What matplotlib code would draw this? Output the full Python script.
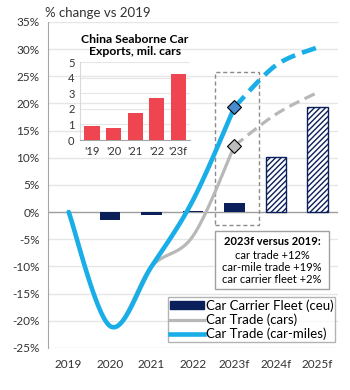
import numpy as np
import matplotlib
matplotlib.use("Agg")
import matplotlib.pyplot as plt
from matplotlib.patches import Rectangle, Patch
from matplotlib.lines import Line2D

plt.rcParams['font.family'] = ['Lato', 'DejaVu Sans']

years = ['2019', '2020', '2021', '2022', '2023f', '2024f', '2025f']
fleet = [0.0, -1.5, -0.5, 0.15, 1.7, 10.1, 19.3]
trade_cars = [0.0, -21.0, -10.0, -4.4, 12.2]
trade_cars_fc = [12.2, 18.0, 22.0]
trade_miles = [0.0, -21.0, -10.0, 2.2, 19.3]
trade_miles_fc = [19.3, 27.0, 30.3]

exp_years = ["'19", "'20", "'21", "'22", "'23f"]
exports = [0.9, 0.8, 1.7, 2.7, 4.2]

NAVY = '#0B1F5B'
BLUE = '#19AEE8'
GREY = '#B8B8B8'
RED = '#EF4550'


def smooth(xs, ys, n=30):
    # Excel-style smoothed line (Catmull-Rom through the points)
    xs = np.asarray(xs, float)
    ys = np.asarray(ys, float)
    px = np.concatenate([[xs[0]], xs, [xs[-1]]])
    py = np.concatenate([[ys[0]], ys, [ys[-1]]])
    ox, oy = [], []
    for i in range(1, len(px) - 2):
        p0 = np.array([px[i - 1], py[i - 1]])
        p1 = np.array([px[i], py[i]])
        p2 = np.array([px[i + 1], py[i + 1]])
        p3 = np.array([px[i + 2], py[i + 2]])
        c1 = p1 + (p2 - p0) / 6
        c2 = p2 - (p3 - p1) / 6
        t = np.linspace(0, 1, n)[:, None]
        pts = ((1 - t) ** 3) * p1 + 3 * ((1 - t) ** 2) * t * c1 + 3 * (1 - t) * t ** 2 * c2 + t ** 3 * p2
        ox.extend(pts[:, 0])
        oy.extend(pts[:, 1])
    return ox, oy


fig = plt.figure(figsize=(3.5, 3.9), dpi=100)
ax = fig.add_axes([0.137, 0.108, 0.829, 0.836])

x = np.arange(len(years))
ax.bar(x[:5], fleet[:5], width=0.5, color=NAVY, zorder=3)
ax.bar(x[5:], fleet[5:], width=0.5, color='white', edgecolor=NAVY,
       hatch='//////', linewidth=1.0, zorder=3)

sx, sy = smooth(x[:5], trade_cars)
ax.plot(sx, sy, color=GREY, lw=2.3, zorder=4, solid_capstyle='round')
sx, sy = smooth(x[4:], trade_cars_fc)
ax.plot(sx, sy, color=GREY, lw=2.3, ls=(0, (3.5, 1.8)), zorder=4)
sx, sy = smooth(x[:5], trade_miles)
ax.plot(sx, sy, color=BLUE, lw=3.3, zorder=5, solid_capstyle='round')
sx, sy = smooth(x[4:], trade_miles_fc)
ax.plot(sx, sy, color=BLUE, lw=3.3, ls=(0, (3.2, 1.6)), zorder=5)

ax.plot(x[4], trade_cars[4], marker='D', ms=7, mfc='#BDBDBD', mec='black', mew=0.8, zorder=6)
ax.plot(x[4], trade_miles[4], marker='D', ms=7, mfc='#4A8BD0', mec='black', mew=0.8, zorder=6)

ax.add_patch(Rectangle((3.52, -2.4), 1.06, 28.2, fill=False, ec='#8C8C8C',
                       ls=(0, (3, 2)), lw=1.0, zorder=2))

# text box under the 2023f frame
ax.add_patch(Rectangle((3.52, -14.2), 2.77, 10.7, fc='white', ec='#A0A0A0', lw=1.0, zorder=7))
ax.text(4.905, -4.5, '2023f versus 2019:', ha='center', va='top', fontsize=8,
        fontweight='bold', zorder=8)
ax.text(4.905, -6.9, 'car trade +12%\ncar-mile trade +19%\ncar carrier fleet +2%',
        ha='center', va='top', fontsize=8, linespacing=1.15, zorder=8)

ax.set_xlim(-0.5, 6.5)
ax.set_ylim(-25, 35)
ax.set_yticks(np.arange(-25, 36, 5))
ax.set_yticklabels([f'{v}%' for v in range(-25, 36, 5)], fontsize=8.5, color='#333333')
ax.set_xticks(x)
ax.set_xticklabels(years, fontsize=8.5, color='#333333')
ax.tick_params(length=0, pad=8)
ax.tick_params(axis='y', pad=6)
for v in range(-25, 36, 5):
    ax.axhline(v, color='#9E9E9E' if v == 0 else '#E6E6E6', lw=1.0, zorder=1)
for s in ['top', 'right', 'bottom']:
    ax.spines[s].set_visible(False)
ax.spines['left'].set_color('#A6A6A6')

fig.text(0.128, 0.966, '% change vs 2019', fontsize=9.5, color='#333333', va='center')

handles = [Patch(color=NAVY),
           Line2D([], [], color=GREY, lw=2.3),
           Line2D([], [], color=BLUE, lw=3.3)]
labels = ['Car Carrier Fleet (ceu)', 'Car Trade (cars)', 'Car Trade (car-miles)']
leg = ax.legend(handles, labels, loc='lower right', bbox_to_anchor=(1.0, 0.01),
                fontsize=9.5, frameon=True, fancybox=False, handlelength=2.6,
                handleheight=0.5, handletextpad=0.15, borderpad=0.15, labelspacing=0.12,
                borderaxespad=0.2)
leg.get_frame().set_edgecolor('#A0A0A0')
leg.get_frame().set_linewidth(1.0)
leg.set_zorder(8)

# inset: China seaborne car exports
ia = fig.add_axes([0.229, 0.641, 0.314, 0.2])
ia.bar(np.arange(len(exports)), exports, width=0.7, color=RED, zorder=3)
ia.set_ylim(0, 5)
ia.set_xlim(-0.55, 4.55)
ia.set_yticks(range(6))
ia.set_yticklabels([str(v) for v in range(6)], fontsize=8, color='#333333')
ia.set_xticks(range(len(exports)))
ia.set_xticklabels(exp_years, fontsize=8, color='#333333')
ia.tick_params(length=0, pad=4)
ia.grid(axis='y', color='#E6E6E6', lw=0.8, zorder=0)
ia.set_facecolor('none')
for s in ['top', 'right']:
    ia.spines[s].set_visible(False)
ia.spines['left'].set_color('#D9D9D9')
ia.spines['bottom'].set_color('#A6A6A6')
ia.set_title('China Seaborne Car\nExports, mil. cars', fontsize=8.8, fontweight='bold',
             linespacing=1.1, pad=5)

fig.savefig('out.png', dpi=100)
